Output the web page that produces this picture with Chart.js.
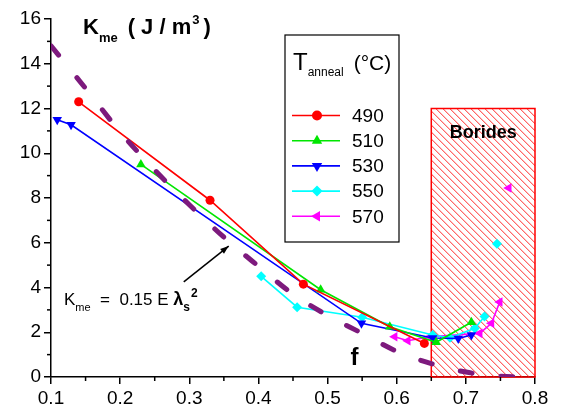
<!DOCTYPE html>
<html>
<head>
<meta charset="utf-8">
<script src="https://cdn.jsdelivr.net/npm/chart.js@4.4.1/dist/chart.umd.min.js"></script>
<style>
  html, body { margin:0; padding:0; background:#fff; }
  #wrap { width:562px; height:409px; }
</style>
</head>
<body>
<div id="wrap"><canvas id="chart" width="562" height="409"></canvas></div>
<script>
// values (x = composition, y = K_me in J/m3)
const temps = ["490", "510", "530", "550", "570"];
const colors = ["#ff0000", "#00e600", "#0000ff", "#00ffff", "#ff00ff"];

const x490 = [0.14, 0.33, 0.465, 0.64];
const k490 = [12.3, 7.9, 4.15, 1.5];

const x510 = [0.23, 0.49, 0.59, 0.657, 0.708];
const k510 = [9.5, 3.9, 2.25, 1.55, 2.45];

const x530 = [0.109, 0.129, 0.549, 0.652, 0.689, 0.708];
const k530 = [11.5, 11.27, 2.4, 1.74, 1.72, 1.88];

// null = break in the line (isolated point afterwards)
const x550 = [0.404, 0.456, 0.55, 0.652, 0.677, 0.713, 0.727, 0.736, 0.745];
const k550 = [4.5, 3.12, 2.67, 1.88, 1.75, 2.18, 2.7, null, 5.95];

const x570 = [0.597, 0.616, 0.648, 0.72, 0.737, 0.749, 0.755, 0.762];
const k570 = [1.8, 1.62, 1.8, 1.95, 2.4, 3.35, null, 8.45];

// dashed curve "f"
const fitX = [0.1, 0.15, 0.2, 0.25, 0.3, 0.35, 0.4, 0.45, 0.5, 0.55, 0.6, 0.65, 0.7, 0.75, 0.78];
const fitK = [14.8, 12.9, 10.95, 9.25, 7.7, 6.25, 4.95, 3.7, 2.75, 1.95, 1.15, 0.6, 0.22, 0.04, 0];

// borides region
const boridesX = [0.65, 0.8];
const boridesTop = 12;

const xTickVals = [0.1, 0.2, 0.3, 0.4, 0.5, 0.6, 0.7, 0.8];
const yTickVals = [0, 2, 4, 6, 8, 10, 12, 14, 16];

const FONT = '"Liberation Sans", Arial, sans-serif';

function pts(xs, ks) {
  return xs.map((x, i) => ({ x, y: ks[i] }));
}

const styles = [
  { pointStyle: "circle", rotation: 0, radius: 4.5 },
  { pointStyle: "triangle", rotation: 0, radius: 5.5 },
  { pointStyle: "triangle", rotation: 180, radius: 5.5 },
  { pointStyle: "rectRot", rotation: 0, radius: 5 },
  { pointStyle: "triangle", rotation: -90, radius: 5.5 }
];

const seriesX = [x490, x510, x530, x550, x570];
const seriesK = [k490, k510, k530, k550, k570];

const datasets = [{
  label: "f",
  data: pts(fitX, fitK),
  borderColor: "#7d1a7d",
  borderWidth: 5,
  borderDash: [12, 29],
  borderCapStyle: "round",
  pointRadius: 0,
  cubicInterpolationMode: "monotone",
  fill: false
}];

temps.forEach((t, i) => {
  datasets.push({
    label: t,
    data: pts(seriesX[i], seriesK[i]),
    borderColor: colors[i],
    backgroundColor: colors[i],
    borderWidth: 1.6,
    pointStyle: styles[i].pointStyle,
    rotation: styles[i].rotation,
    pointRadius: styles[i].radius,
    pointBorderWidth: 0,
    spanGaps: false,
    fill: false
  });
});

function marker(ctx, style, x, y, r, rot) {
  const a = rot * Math.PI / 180;
  ctx.beginPath();
  if (style === "circle") {
    ctx.arc(x, y, r, 0, Math.PI * 2);
  } else if (style === "rectRot") {
    ctx.moveTo(x - r, y); ctx.lineTo(x, y - r); ctx.lineTo(x + r, y); ctx.lineTo(x, y + r);
  } else {
    for (let k = 0; k < 3; k++) {
      const b = a + k * 2 * Math.PI / 3;
      const px = x + Math.sin(b) * r, py = y - Math.cos(b) * r;
      if (k === 0) ctx.moveTo(px, py); else ctx.lineTo(px, py);
    }
  }
  ctx.closePath();
  ctx.fill();
}

function rich(ctx, x, y, parts) {
  let cx = x;
  parts.forEach(p => {
    ctx.font = p.font;
    ctx.fillText(p.t, cx, y + (p.dy || 0));
    cx += ctx.measureText(p.t).width + (p.gap || 0);
  });
}

const extras = {
  id: "extras",
  beforeDatasetsDraw(chart) {
    const { ctx, scales: { x, y } } = chart;
    const L = x.getPixelForValue(boridesX[0]), R = x.getPixelForValue(boridesX[1]);
    const T = y.getPixelForValue(boridesTop), B = y.getPixelForValue(0);
    ctx.save();
    ctx.beginPath(); ctx.rect(L, T, R - L, B - T); ctx.clip();
    ctx.strokeStyle = "#ff2a2a"; ctx.lineWidth = 1;
    const h = B - T;
    for (let k = -h; k < R - L; k += 7) {
      ctx.beginPath(); ctx.moveTo(L + k, T); ctx.lineTo(L + k + h, B); ctx.stroke();
    }
    ctx.restore();
    ctx.save();
    ctx.strokeStyle = "#ff0000"; ctx.lineWidth = 1.5;
    ctx.strokeRect(L, T, R - L, B - T);
    ctx.fillStyle = "#000";
    ctx.font = "bold 18px " + FONT;
    ctx.textAlign = "center"; ctx.textBaseline = "middle";
    ctx.fillText("Borides", (L + R) / 2, T + 25);
    ctx.restore();
  },
  afterDraw(chart) {
    const { ctx, chartArea: a, scales: { x, y } } = chart;
    ctx.save();
    // minor ticks
    ctx.strokeStyle = "#000"; ctx.lineWidth = 1.5;
    for (let i = 0; i < xTickVals.length - 1; i++) {
      const px = x.getPixelForValue((xTickVals[i] + xTickVals[i + 1]) / 2);
      ctx.beginPath(); ctx.moveTo(px, a.bottom); ctx.lineTo(px, a.bottom + 4); ctx.stroke();
    }
    for (let i = 0; i < yTickVals.length - 1; i++) {
      const py = y.getPixelForValue((yTickVals[i] + yTickVals[i + 1]) / 2);
      ctx.beginPath(); ctx.moveTo(a.left, py); ctx.lineTo(a.left - 4, py); ctx.stroke();
    }

    ctx.fillStyle = "#000";
    ctx.textBaseline = "alphabetic";
    // axis title
    rich(ctx, 83, 34, [
      { t: "K", font: "bold 22px " + FONT },
      { t: "me", font: "bold 13px " + FONT, dy: 8, gap: 10 },
      { t: "( J / m", font: "bold 22px " + FONT, gap: 1 },
      { t: "3", font: "bold 13px " + FONT, dy: -10, gap: 4 },
      { t: ")", font: "bold 22px " + FONT }
    ]);

    // formula + arrow
    rich(ctx, 64, 305, [
      { t: "K", font: "17px " + FONT },
      { t: "me", font: "11px " + FONT, dy: 6 },
      { t: "  =  0.15 E ", font: "17px " + FONT },
      { t: "λ", font: "bold 18px " + FONT },
      { t: "s", font: "bold 12px " + FONT, dy: 6, gap: 1 },
      { t: "2", font: "bold 12px " + FONT, dy: -8 }
    ]);
    const ax0 = x.getPixelForValue(0.292), ay0 = y.getPixelForValue(4.25);
    const ax1 = x.getPixelForValue(0.357), ay1 = y.getPixelForValue(5.85);
    ctx.strokeStyle = "#000"; ctx.lineWidth = 1.5;
    ctx.beginPath(); ctx.moveTo(ax0, ay0); ctx.lineTo(ax1, ay1); ctx.stroke();
    const ang = Math.atan2(ay1 - ay0, ax1 - ax0);
    ctx.beginPath();
    ctx.moveTo(ax1, ay1);
    ctx.lineTo(ax1 - 9 * Math.cos(ang - 0.35), ay1 - 9 * Math.sin(ang - 0.35));
    ctx.lineTo(ax1 - 9 * Math.cos(ang + 0.35), ay1 - 9 * Math.sin(ang + 0.35));
    ctx.closePath(); ctx.fill();

    // label f
    ctx.font = "bold 24px " + FONT;
    ctx.textAlign = "center";
    ctx.fillText("f", x.getPixelForValue(0.539), y.getPixelForValue(0.55));
    ctx.textAlign = "left";

    // legend box
    const bx = 285, by = 35, bw = 114, bh = 207;
    ctx.fillStyle = "#fff";
    ctx.fillRect(bx, by, bw, bh);
    ctx.strokeStyle = "#000"; ctx.lineWidth = 1.2;
    ctx.strokeRect(bx, by, bw, bh);
    ctx.fillStyle = "#000";
    rich(ctx, 293, 70, [
      { t: "T", font: "24px " + FONT },
      { t: "anneal", font: "12px " + FONT, dy: 6, gap: 10 },
      { t: "(°C)", font: "21px " + FONT }
    ]);
    temps.forEach((t, i) => {
      const cy = 115.5 + i * 25.2;
      ctx.strokeStyle = colors[i]; ctx.lineWidth = 1.6;
      ctx.beginPath(); ctx.moveTo(292, cy); ctx.lineTo(340, cy); ctx.stroke();
      ctx.fillStyle = colors[i];
      marker(ctx, styles[i].pointStyle, 317, cy, styles[i].radius + 0.5, styles[i].rotation);
      ctx.fillStyle = "#000";
      ctx.font = "19px " + FONT;
      ctx.textBaseline = "middle";
      ctx.fillText(t, 352, cy + 1);
      ctx.textBaseline = "alphabetic";
    });
    ctx.restore();
  }
};

new Chart(document.getElementById("chart"), {
  type: "line",
  data: { datasets },
  options: {
    responsive: false,
    animation: false,
    layout: { padding: { top: 19, right: 27, left: 0, bottom: 0 } },
    plugins: { legend: { display: false }, tooltip: { enabled: false } },
    scales: {
      x: {
        type: "linear",
        min: 0.1, max: 0.8,
        afterBuildTicks: s => { s.ticks = xTickVals.map(v => ({ value: v })); },
        afterFit: s => { s.height = 32; },
        ticks: { color: "#000", font: { family: FONT, size: 19 }, padding: 3,
                 callback: v => Number(v).toFixed(1) },
        grid: { drawOnChartArea: false, drawTicks: true, tickLength: 7, color: "#000", lineWidth: 1.5 },
        border: { color: "#000", width: 1.5 }
      },
      y: {
        min: 0, max: 16,
        afterBuildTicks: s => { s.ticks = yTickVals.map(v => ({ value: v })); },
        afterFit: s => { s.width = 51; },
        ticks: { color: "#000", font: { family: FONT, size: 19 }, padding: 3,
                 callback: v => String(v) },
        grid: { drawOnChartArea: false, drawTicks: true, tickLength: 7, color: "#000", lineWidth: 1.5 },
        border: { color: "#000", width: 1.5 }
      }
    }
  },
  plugins: [extras]
});
</script>
</body>
</html>
